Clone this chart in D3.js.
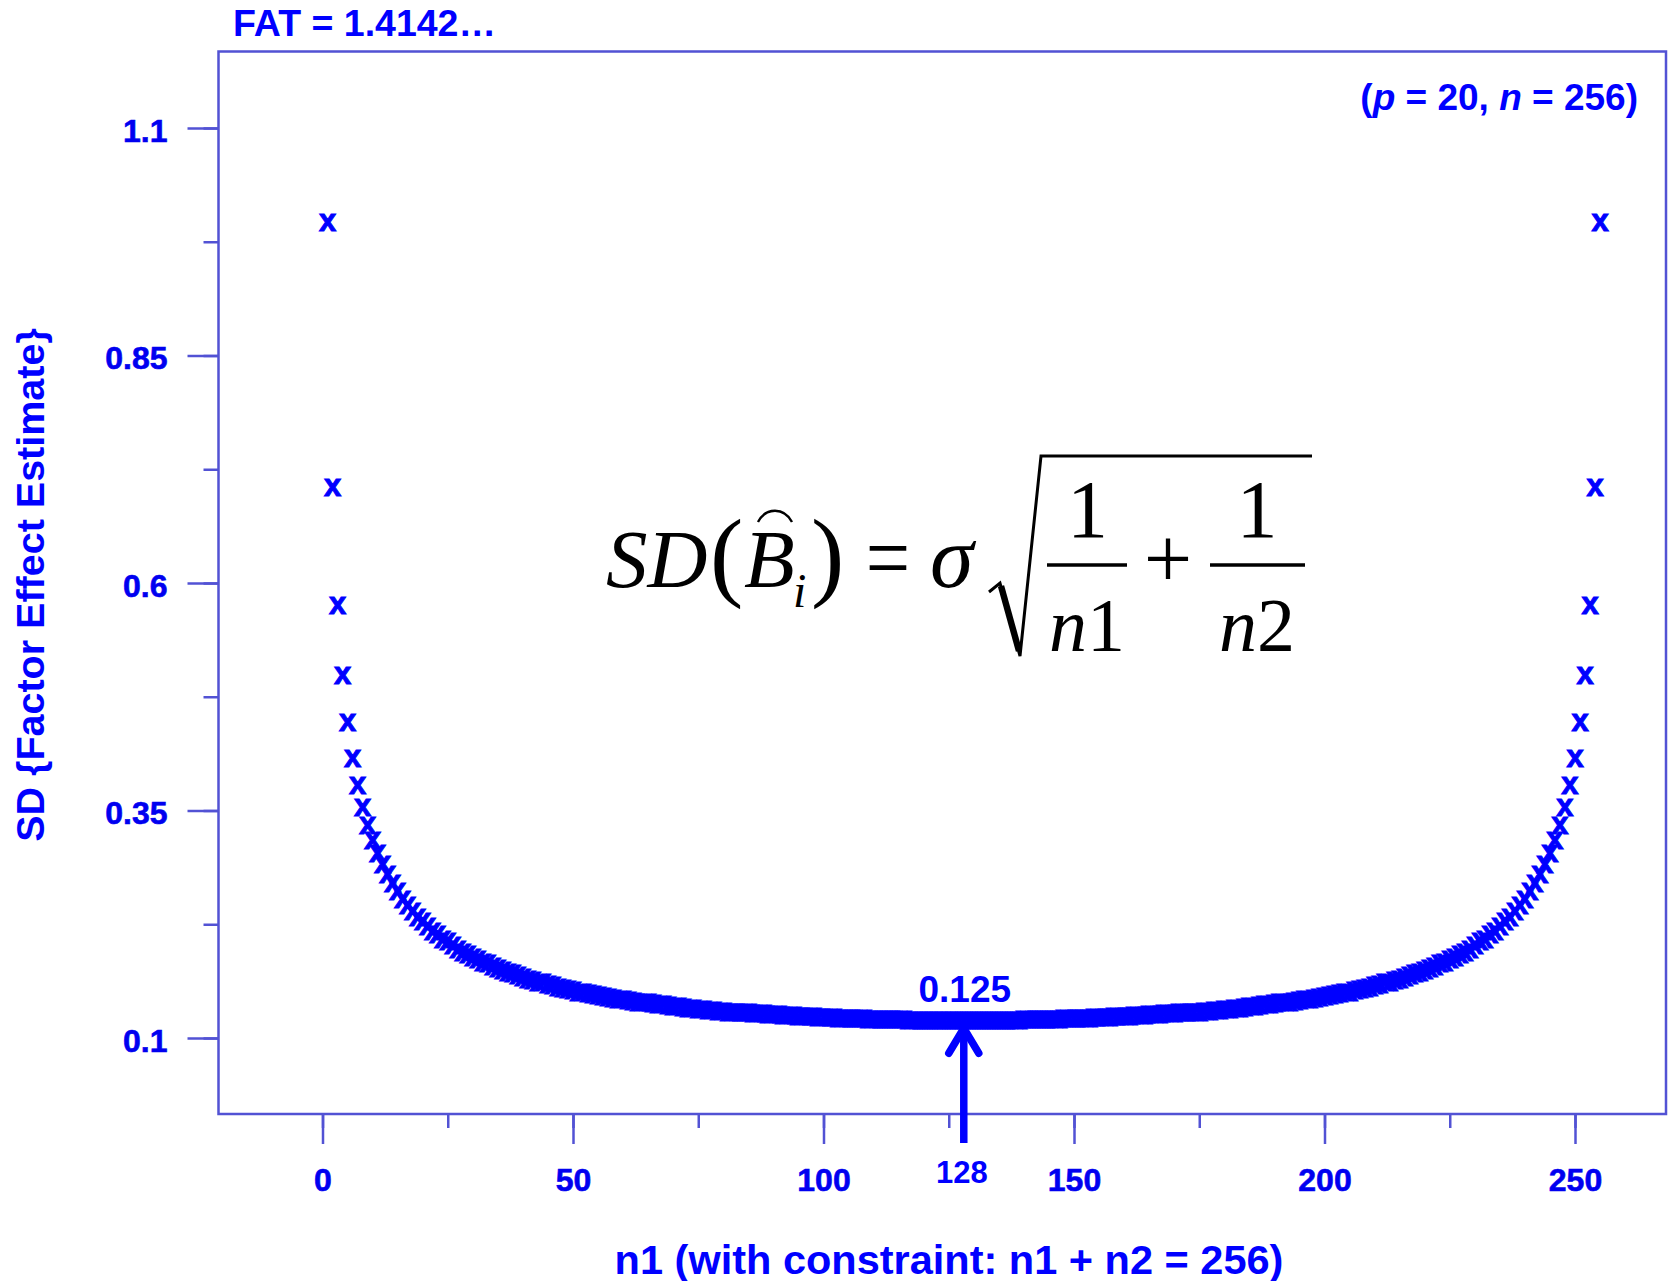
<!DOCTYPE html>
<html>
<head>
<meta charset="utf-8">
<script src="https://cdn.jsdelivr.net/npm/d3@7"></script>
<style>
body { margin: 0; background: #fff; }
svg { display: block; background: #fff; }
.tick text { font-family: "Liberation Sans", Arial, sans-serif; font-weight: bold; font-size: 32px; fill: #0000f0; stroke: #0000f0; stroke-width: 0.6px; }
.tick line { stroke: #5252d4; stroke-width: 2.5; }
.lbl { font-family: "Liberation Sans", Arial, sans-serif; font-weight: bold; fill: #0000ff; }
.pt { stroke: #0000ff; stroke-width: 1px; }
.eq { font-family: "Liberation Serif", "Times New Roman", serif; fill: #000; }
</style>
</head>
<body>
<svg id="chart"></svg>
<script>
// n1 (size of first group), n1 + n2 = 256
var n1 = [
  1,2,3,4,5,6,7,8,9,10,11,12,13,14,15,16,17,18,19,20,
  21,22,23,24,25,26,27,28,29,30,31,32,33,34,35,36,37,38,39,40,
  41,42,43,44,45,46,47,48,49,50,51,52,53,54,55,56,57,58,59,60,
  61,62,63,64,65,66,67,68,69,70,71,72,73,74,75,76,77,78,79,80,
  81,82,83,84,85,86,87,88,89,90,91,92,93,94,95,96,97,98,99,100,
  101,102,103,104,105,106,107,108,109,110,111,112,113,114,115,116,117,118,119,120,
  121,122,123,124,125,126,127,128,129,130,131,132,133,134,135,136,137,138,139,140,
  141,142,143,144,145,146,147,148,149,150,151,152,153,154,155,156,157,158,159,160,
  161,162,163,164,165,166,167,168,169,170,171,172,173,174,175,176,177,178,179,180,
  181,182,183,184,185,186,187,188,189,190,191,192,193,194,195,196,197,198,199,200,
  201,202,203,204,205,206,207,208,209,210,211,212,213,214,215,216,217,218,219,220,
  221,222,223,224,225,226,227,228,229,230,231,232,233,234,235,236,237,238,239,240,
  241,242,243,244,245,246,247,248,249,250,251,252,253,254,255
];

// SD of the factor effect estimate (sigma = 1)
var sd = [
  1.002,0.710,0.581,0.504,0.452,0.413,0.383,0.359,0.339,0.323,0.308,0.296,0.285,0.275,0.266,0.258,
  0.251,0.244,0.238,0.233,0.228,0.223,0.219,0.214,0.211,0.207,0.203,0.200,0.197,0.194,0.192,0.189,
  0.187,0.184,0.182,0.180,0.178,0.176,0.174,0.172,0.170,0.169,0.167,0.166,0.164,0.163,0.161,0.160,
  0.159,0.158,0.156,0.155,0.154,0.153,0.152,0.151,0.150,0.149,0.148,0.148,0.147,0.146,0.145,0.144,
  0.144,0.143,0.142,0.142,0.141,0.140,0.140,0.139,0.138,0.138,0.137,0.137,0.136,0.136,0.135,0.135,
  0.134,0.134,0.134,0.133,0.133,0.132,0.132,0.132,0.131,0.131,0.131,0.130,0.130,0.130,0.129,0.129,
  0.129,0.129,0.128,0.128,0.128,0.128,0.127,0.127,0.127,0.127,0.127,0.127,0.126,0.126,0.126,0.126,
  0.126,0.126,0.126,0.126,0.125,0.125,0.125,0.125,0.125,0.125,0.125,0.125,0.125,0.125,0.125,0.125,
  0.125,0.125,0.125,0.125,0.125,0.125,0.125,0.125,0.125,0.125,0.125,0.126,0.126,0.126,0.126,
  0.126,0.126,0.126,0.126,0.127,0.127,0.127,0.127,0.127,0.127,0.128,0.128,0.128,0.128,0.129,0.129,
  0.129,0.129,0.130,0.130,0.130,0.131,0.131,0.131,0.132,0.132,0.132,0.133,0.133,0.134,0.134,0.134,
  0.135,0.135,0.136,0.136,0.137,0.137,0.138,0.138,0.139,0.140,0.140,0.141,0.142,0.142,0.143,0.144,
  0.144,0.145,0.146,0.147,0.148,0.148,0.149,0.150,0.151,0.152,0.153,0.154,0.155,0.156,0.158,0.159,
  0.160,0.161,0.163,0.164,0.166,0.167,0.169,0.170,0.172,0.174,0.176,0.178,0.180,0.182,0.184,0.187,
  0.189,0.192,0.194,0.197,0.200,0.203,0.207,0.211,0.214,0.219,0.223,0.228,0.233,0.238,0.244,0.251,
  0.258,0.266,0.275,0.285,0.296,0.308,0.323,0.339,0.359,0.383,0.413,0.452,0.504,0.581,0.710,1.002
];

var xTicks = [0, 25, 50, 75, 100, 125, 150, 175, 200, 225, 250];
var xLabels = [0, 50, 100, 150, 200, 250];
var yTicks = [0.1, 0.225, 0.35, 0.475, 0.6, 0.725, 0.85, 0.975, 1.1];
var yLabels = [0.1, 0.35, 0.6, 0.85, 1.1];

var minN1 = 128, minSD = 0.125;

var W = 1668, H = 1281;
var box = {left: 218.5, top: 51.5, right: 1666, bottom: 1114};

var svg = d3.select("#chart").attr("width", W).attr("height", H);

var x = d3.scaleLinear().domain([0, 250]).range([322.5, 1575]);
var y = d3.scaleLinear().domain([0.1, 1.1]).range([1038, 128]);

// frame
svg.append("rect")
    .attr("x", box.left).attr("y", box.top)
    .attr("width", box.right - box.left).attr("height", box.bottom - box.top)
    .attr("fill", "none").attr("stroke", "#5252d4").attr("stroke-width", 2.5);

// x axis: short unlabeled ticks, then long labeled ones
svg.append("g")
    .attr("transform", "translate(0," + box.bottom + ")")
    .call(d3.axisBottom(x).tickValues(xTicks).tickSize(14).tickFormat(""))
    .call(function (g) { g.select(".domain").remove(); g.selectAll("text").remove(); });
svg.append("g")
    .attr("transform", "translate(0," + box.bottom + ")")
    .call(d3.axisBottom(x).tickValues(xLabels).tickSize(30).tickPadding(24).tickFormat(d3.format("d")))
    .call(function (g) { g.select(".domain").remove(); });

// y axis
svg.append("g")
    .attr("transform", "translate(" + box.left + ",0)")
    .call(d3.axisLeft(y).tickValues(yTicks).tickSize(15).tickFormat(""))
    .call(function (g) { g.select(".domain").remove(); g.selectAll("text").remove(); });
svg.append("g")
    .attr("transform", "translate(" + box.left + ",0)")
    .call(d3.axisLeft(y).tickValues(yLabels).tickSize(31).tickPadding(20).tickFormat(function (d) { return String(d); }))
    .call(function (g) {
        g.select(".domain").remove();
        g.selectAll("text").attr("dy", "0.42em");
    });

// points drawn as "x" characters
svg.selectAll(".pt")
    .data(n1)
    .enter().append("text")
    .attr("class", "lbl pt")
    .attr("x", function (d) { return x(d); })
    .attr("y", function (d, i) { return y(sd[i]) + 13.5; })
    .attr("text-anchor", "middle")
    .style("font-size", "31px")
    .text("x");

// arrow at the minimum
var ax = x(minN1);
var tipY = y(minSD) + 13;
svg.append("line")
    .attr("x1", ax).attr("x2", ax)
    .attr("y1", 1143).attr("y2", tipY + 3)
    .attr("stroke", "#0000ff").attr("stroke-width", 7.5);
svg.append("path")
    .attr("d", "M" + (ax - 15) + "," + (tipY + 25) + "L" + ax + "," + tipY + "L" + (ax + 15) + "," + (tipY + 25))
    .attr("fill", "none").attr("stroke", "#0000ff").attr("stroke-width", 7.5)
    .attr("stroke-linecap", "round").attr("stroke-linejoin", "round");

svg.append("text").attr("class", "lbl")
    .attr("x", ax + 1).attr("y", y(minSD) - 13.5)
    .attr("text-anchor", "middle").style("font-size", "37px")
    .text("0.125");
svg.append("text").attr("class", "lbl")
    .attr("x", ax - 2).attr("y", 1183)
    .attr("text-anchor", "middle").style("font-size", "31px")
    .text("128");

// titles and notes
svg.append("text").attr("class", "lbl")
    .attr("x", 233).attr("y", 36)
    .style("font-size", "37.5px")
    .text("FAT = 1.4142\u2026");

var pn = svg.append("text").attr("class", "lbl")
    .attr("x", 1638).attr("y", 110)
    .attr("text-anchor", "end").style("font-size", "37px");
pn.append("tspan").text("(");
pn.append("tspan").style("font-style", "italic").text("p");
pn.append("tspan").text(" = 20, ");
pn.append("tspan").style("font-style", "italic").text("n");
pn.append("tspan").text(" = 256)");

svg.append("text").attr("class", "lbl")
    .attr("transform", "translate(44,585) rotate(-90)")
    .attr("text-anchor", "middle").style("font-size", "39.5px")
    .text("SD {Factor Effect Estimate}");

svg.append("text").attr("class", "lbl")
    .attr("x", 949).attr("y", 1274)
    .attr("text-anchor", "middle").style("font-size", "41.5px")
    .text("n1 (with constraint: n1 + n2 = 256)");

// formula
var eq = svg.append("g");
function eqText(px, py, str, size, sx, italic, anchor) {
    return eq.append("text").attr("class", "eq")
        .attr("transform", "translate(" + px + "," + py + ") scale(" + sx + ",1)")
        .attr("text-anchor", anchor || "start")
        .style("font-size", size + "px")
        .style("font-style", italic ? "italic" : "normal")
        .text(str);
}
eqText(606, 587, "SD", 83, 1, true);
eqText(710, 588, "(", 100, 1, false);
eqText(744, 587, "B", 83, 1, true);
eqText(793, 607, "i", 48, 1, true);
eqText(811, 588, ")", 100, 1, false);
eqText(888, 590, "=", 96, 0.82, false, "middle");
eqText(930, 587, "\u03c3", 88, 1, true);
eq.append("path")
    .attr("d", "M758,522 C766,507 784,507 792,522")
    .attr("fill", "none").attr("stroke", "#000").attr("stroke-width", 2.4);
eq.append("path")
    .attr("d", "M989,592 L1000,583 L1020,656 L1041,456 L1312,456")
    .attr("fill", "none").attr("stroke", "#000").attr("stroke-width", 3);
eq.append("path")
    .attr("d", "M1001,586 L1019,651")
    .attr("fill", "none").attr("stroke", "#000").attr("stroke-width", 6.5);
eqText(1087.5, 537, "1", 82, 1, false, "middle");
eqText(1257, 537, "1", 82, 1, false, "middle");
eq.append("line").attr("x1", 1047).attr("x2", 1127).attr("y1", 565).attr("y2", 565)
    .attr("stroke", "#000").attr("stroke-width", 3.3);
eq.append("line").attr("x1", 1210).attr("x2", 1305).attr("y1", 565).attr("y2", 565)
    .attr("stroke", "#000").attr("stroke-width", 3.3);
eqText(1168, 588, "+", 86, 1, false, "middle");
var d1 = eqText(1087, 651, "", 76, 1, false, "middle");
d1.append("tspan").style("font-style", "italic").text("n");
d1.append("tspan").text("1");
var d2 = eqText(1257, 651, "", 76, 1, false, "middle");
d2.append("tspan").style("font-style", "italic").text("n");
d2.append("tspan").text("2");
</script>
</body>
</html>
